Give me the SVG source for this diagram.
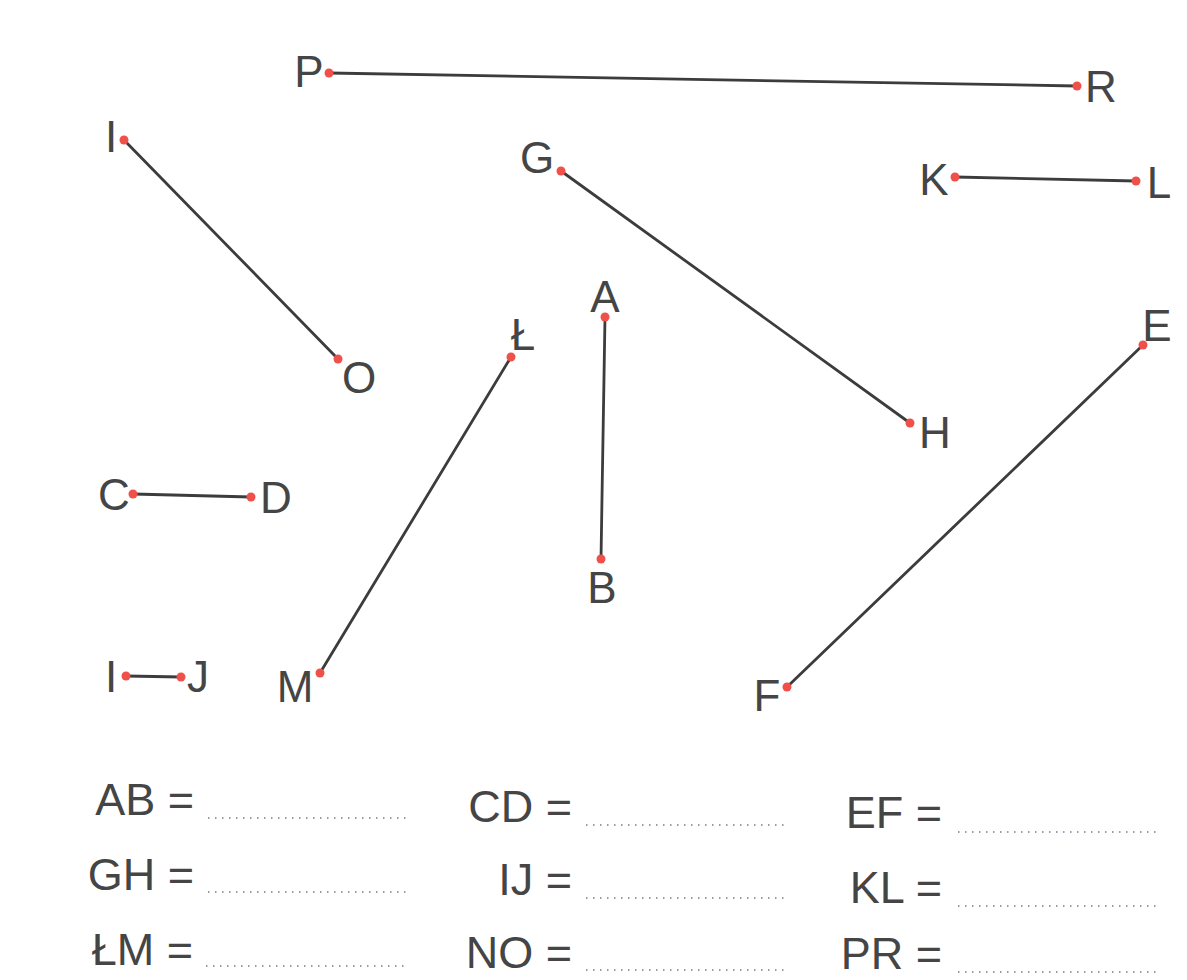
<svg xmlns="http://www.w3.org/2000/svg" width="1187" height="980" viewBox="0 0 1187 980">
<style>
.seg{stroke:#3c3c3c;stroke-width:2.8;stroke-linecap:round}
.pt{fill:#f0504a}
.lbl{font-family:"Liberation Sans",Arial,sans-serif;font-size:44px;fill:#454545;text-anchor:middle}
.eq{font-family:"Liberation Sans",Arial,sans-serif;font-size:45px;fill:#454545;text-anchor:end}
.dots{stroke:#9a9aa8;stroke-width:2;stroke-dasharray:1.5 5.5}
</style>
<rect width="1187" height="980" fill="#ffffff"/>
<g id="connectors">
<line class="seg" x1="329" y1="73" x2="1077" y2="86"/>
<line class="seg" x1="124" y1="140" x2="338" y2="359"/>
<line class="seg" x1="561" y1="171" x2="910" y2="423"/>
<line class="seg" x1="955" y1="177" x2="1136" y2="181"/>
<line class="seg" x1="605" y1="317" x2="601" y2="559"/>
<line class="seg" x1="511" y1="357" x2="320" y2="673"/>
<line class="seg" x1="1143" y1="345" x2="787" y2="687"/>
<line class="seg" x1="133" y1="494" x2="251" y2="497"/>
<line class="seg" x1="126" y1="676" x2="181" y2="677"/>
</g>
<g id="node-P"><circle class="pt" cx="329" cy="73" r="4.5"/><text class="lbl" x="309" y="87">P</text></g>
<g id="node-R"><circle class="pt" cx="1077" cy="86" r="4.5"/><text class="lbl" x="1101" y="102">R</text></g>
<g id="node-I1"><circle class="pt" cx="124" cy="140" r="4.5"/><text class="lbl" x="111" y="152">I</text></g>
<g id="node-O"><circle class="pt" cx="338" cy="359" r="4.5"/><text class="lbl" x="359" y="393">O</text></g>
<g id="node-G"><circle class="pt" cx="561" cy="171" r="4.5"/><text class="lbl" x="537" y="173">G</text></g>
<g id="node-H"><circle class="pt" cx="910" cy="423" r="4.5"/><text class="lbl" x="935" y="448">H</text></g>
<g id="node-K"><circle class="pt" cx="955" cy="177" r="4.5"/><text class="lbl" x="934" y="195">K</text></g>
<g id="node-L"><circle class="pt" cx="1136" cy="181" r="4.5"/><text class="lbl" x="1159" y="198">L</text></g>
<g id="node-A"><circle class="pt" cx="605" cy="317" r="4.5"/><text class="lbl" x="605" y="312">A</text></g>
<g id="node-B"><circle class="pt" cx="601" cy="559" r="4.5"/><text class="lbl" x="602" y="603">B</text></g>
<g id="node-L2"><circle class="pt" cx="511" cy="357" r="4.5"/><text class="lbl" x="523" y="350">Ł</text></g>
<g id="node-M"><circle class="pt" cx="320" cy="673" r="4.5"/><text class="lbl" x="295" y="702">M</text></g>
<g id="node-E"><circle class="pt" cx="1143" cy="345" r="4.5"/><text class="lbl" x="1157" y="341">E</text></g>
<g id="node-F"><circle class="pt" cx="787" cy="687" r="4.5"/><text class="lbl" x="767" y="711">F</text></g>
<g id="node-C"><circle class="pt" cx="133" cy="494" r="4.5"/><text class="lbl" x="114" y="510">C</text></g>
<g id="node-D"><circle class="pt" cx="251" cy="497" r="4.5"/><text class="lbl" x="276" y="513">D</text></g>
<g id="node-I2"><circle class="pt" cx="126" cy="676" r="4.5"/><text class="lbl" x="111" y="692">I</text></g>
<g id="node-J"><circle class="pt" cx="181" cy="677" r="4.5"/><text class="lbl" x="198" y="692">J</text></g>
<g id="answers">
<text class="eq" x="194" y="815">AB =</text>
<line class="dots" x1="208" y1="818" x2="408" y2="818"/>
<text class="eq" x="194" y="890">GH =</text>
<line class="dots" x1="208" y1="892" x2="408" y2="892"/>
<text class="eq" x="193" y="965">ŁM =</text>
<line class="dots" x1="206" y1="966" x2="406" y2="966"/>
<text class="eq" x="572" y="822">CD =</text>
<line class="dots" x1="586" y1="825" x2="787" y2="825"/>
<text class="eq" x="572" y="895">IJ =</text>
<line class="dots" x1="586" y1="898" x2="787" y2="898"/>
<text class="eq" x="572" y="968">NO =</text>
<line class="dots" x1="586" y1="970" x2="787" y2="970"/>
<text class="eq" x="942" y="828">EF =</text>
<line class="dots" x1="958" y1="832" x2="1157" y2="832"/>
<text class="eq" x="942" y="903">KL =</text>
<line class="dots" x1="958" y1="906" x2="1157" y2="906"/>
<text class="eq" x="942" y="969">PR =</text>
<line class="dots" x1="958" y1="972" x2="1157" y2="972"/>
</g>
</svg>
